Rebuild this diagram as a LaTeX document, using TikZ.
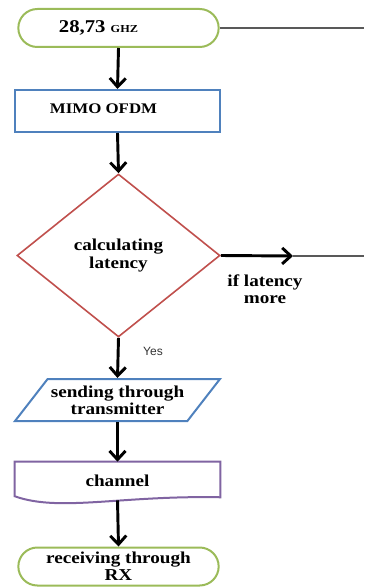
\documentclass[tikz,border=0pt]{standalone}
\usepackage{fontspec}
\setmainfont{Liberation Serif}[FakeStretch=1.15]
\newfontfamily\yesfont{Liberation Sans}
\usetikzlibrary{shapes,shapes.geometric,shapes.misc,arrows.meta,calc}
\definecolor{termgreen}{RGB}{155,187,89}
\definecolor{boxblue}{RGB}{79,129,189}
\definecolor{decred}{RGB}{192,80,77}
\definecolor{chanpurple}{RGB}{128,100,162}

\begin{document}
\begin{tikzpicture}
	[x=0.75pt,y=-0.75pt,
	every node/.style={font=\fontsize{12.5}{13}\selectfont\bfseries,align=center,inner sep=1pt},
	term/.style={shape=rounded rectangle,draw=termgreen,line width=1.5pt,
		minimum width=152.25pt,minimum height=28.5pt},
	procbox/.style={shape=rectangle,draw=boxblue,line width=1.5pt,
		minimum width=153.75pt,minimum height=31.5pt},
	decbox/.style={shape=diamond,draw=decred,line width=1.2pt,
		minimum width=152.25pt,minimum height=122.25pt},
	iobox/.style={shape=trapezium,trapezium left angle=45,trapezium right angle=135,
		trapezium stretches=true,draw=boxblue,line width=1.5pt,
		minimum width=153.75pt,minimum height=31.5pt},
	flow/.style={draw,-{Straight Barb[length=6.5pt,width=12pt]},line width=2.2pt},
	side/.style={-,draw=black!65,line width=0.8pt}]
	\useasboundingbox (0,0) rectangle (364,588);
	
	\node[term] (ghz) at (118.5,28) {\fontsize{13.5}{14}\selectfont 28,73 {\fontsize{8}{9}\selectfont GHZ}\hspace*{30pt}};
	\node[procbox] (mimo) at (117.5,111) {\raisebox{3pt}{\fontsize{11}{12}\selectfont MIMO OFDM}\hspace*{21pt}};
	\node[decbox] (lat) at (118.5,255.5) {calculating\\latency};
	\node[iobox] (tx) at (117.5,400) {sending through\\transmitter};
	\node[minimum width=153.75pt,minimum height=28.5pt] (chan) at (117.5,481) {channel};
	\node[term] (rx) at (118.5,566.5) {receiving through\\RX};
	\node (yes) at (153,351) {\yesfont\mdseries\fontsize{9}{10}\selectfont\color{black!80}Yes};
	\node (more) at (265,289) {if latency\\more};
	\coordinate (topend) at (364,28);
	\coordinate (latbend) at (293,256);
	\coordinate (latend) at (364,256);
	
	\draw[chanpurple,line width=1.5pt] (chan.north west) -- (chan.north east)
		-- ($(chan.south east)+(0,-3)$)
		.. controls ($(chan.south east)+(-100,-5)$) and ($(chan.south west)+(45,12)$)
		.. ($(chan.south west)+(0,-4)$) -- cycle;
	
	\path
	\foreach \startNode/\endNode in {ghz/mimo,mimo/lat,lat/tx,tx/chan,chan/rx}
	{
		(\startNode.south) edge[flow] (\endNode.north)
	};
	\draw[side] (ghz.east) -- (topend);
	\draw[flow] (lat.east) -- (latbend);
	\draw[side] (latbend) -- (latend);
\end{tikzpicture}
\end{document}
